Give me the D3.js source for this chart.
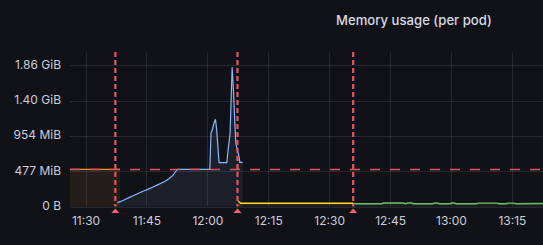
<!DOCTYPE html>
<html>
<head>
<meta charset="utf-8">
<script src="https://cdn.jsdelivr.net/npm/d3@7"></script>
<style>
  html, body { margin: 0; padding: 0; background: #111217; }
  svg { display: block; }
  text { font-family: Inter, "Noto Sans", sans-serif; }
</style>
</head>
<body>
<svg id="chart" width="543" height="245"></svg>
<script>
// ---- data (values in MB = 1e6 bytes) ----
const title = "Memory usage (per pod)";
const yTickValues = [0, 500, 1000, 1500, 2000];
const yTickLabels = ["0 B", "477 MiB", "954 MiB", "1.40 GiB", "1.86 GiB"];
const xTickLabels = ["11:30", "11:45", "12:00", "12:15", "12:30", "12:45", "13:00", "13:15"];
const thresholdMB = 524.288; // 500 MiB
const annotationTimes = ["11:37:20", "12:07:25", "12:35:55"];

const orangeTimes = ["11:20:00", "11:30:00", "11:38:30"];
const orangeValues = [527, 527, 527];

const blueTimes = ["11:37:48","11:38:42","11:39:42","11:40:42","11:41:42","11:42:42","11:43:36","11:44:36",
  "11:45:36","11:46:36","11:47:36","11:48:36","11:49:36","11:50:30","11:51:30","11:52:12","11:52:36",
  "12:00:36","12:00:54","12:01:12","12:01:36","12:02:00","12:02:18","12:02:42","12:02:54","12:04:48",
  "12:05:06","12:05:36","12:06:06","12:06:24","12:06:42","12:07:00","12:07:24","12:07:48","12:08:00","12:08:42"];
const blueValues = [54,72,100,126,152,178,202,226,
  250,276,303,330,358,392,440,496,527,
  527,1041,1083,1178,1235,1083,758,620,620,
  800,1041,1972,1678,1272,899,800,705,626,626];

const yellowTimes = ["12:07:36","12:08:15","12:15:00","12:25:00","12:35:55"];
const yellowValues = [74, 45, 45, 45, 45];

const greenTimes = ["12:35:54","12:37:12","12:42:54","12:43:30","12:45:00","12:48:18","12:48:48","12:49:24",
  "12:50:18","12:50:48","12:55:36","12:56:00","12:56:30","12:57:12","12:59:48","13:00:12","13:00:36",
  "13:01:24","13:06:18","13:06:48","13:11:18","13:11:48","13:13:42","13:14:06","13:15:12","13:16:12","13:23:00"];
const greenValues = [42,40,40,50,50,50,40,50,
  50,40,40,50,50,40,40,50,50,
  40,40,48,48,40,40,48,48,40,42];

// ---- helpers ----
const day = "2024-01-01T";
const parseT = s => new Date(day + (s.length === 5 ? s + ":00" : s));
const toPts = (ts, vs) => ts.map((t, i) => ({ t: parseT(t), v: vs[i] }));

const W = 543, H = 245;
const plot = { left: 70, right: 543, top: 52, bottom: 206.5 };

const x = d3.scaleTime()
  .domain([parseT("11:26:10"), parseT("13:22:40")])
  .range([plot.left, plot.right]);
const y = d3.scaleLinear()
  .domain([0, 2188])
  .range([plot.bottom, plot.top]);

const svg = d3.select("#chart");
svg.append("rect").attr("width", W).attr("height", H).attr("fill", "#111217");

svg.append("defs").append("clipPath").attr("id", "clip")
  .append("rect").attr("x", plot.left).attr("y", plot.top - 2)
  .attr("width", plot.right - plot.left).attr("height", plot.bottom - plot.top + 4);

// gridlines
const grid = svg.append("g");
grid.selectAll("line.h").data(yTickValues).join("line")
  .attr("x1", plot.left).attr("x2", plot.right)
  .attr("y1", d => Math.round(y(d)) + 0.5).attr("y2", d => Math.round(y(d)) + 0.5)
  .attr("stroke", "#ccccdc").attr("stroke-opacity", 0.12);
grid.selectAll("line.v").data(xTickLabels).join("line")
  .attr("x1", d => Math.round(x(parseT(d))) + 0.5).attr("x2", d => Math.round(x(parseT(d))) + 0.5)
  .attr("y1", plot.top).attr("y2", plot.bottom)
  .attr("stroke", "#ccccdc").attr("stroke-opacity", 0.12);

const g = svg.append("g").attr("clip-path", "url(#clip)");

const series = [
  { pts: toPts(orangeTimes, orangeValues), color: "#FF9830", w: 1.3 },
  { pts: toPts(blueTimes, blueValues), color: "#8AB8FF", w: 1.2 },
  { pts: toPts(yellowTimes, yellowValues), color: "#FADE2A", w: 1.4 },
  { pts: toPts(greenTimes, greenValues), color: "#73BF69", w: 1.4 }
];

const area = d3.area().x(d => x(d.t)).y0(y(0)).y1(d => y(d.v));
const line = d3.line().x(d => x(d.t)).y(d => y(d.v));

series.forEach(s => {
  g.append("path").datum(s.pts).attr("d", area)
    .attr("fill", s.color).attr("fill-opacity", 0.085);
});
series.forEach(s => {
  g.append("path").datum(s.pts).attr("d", line)
    .attr("fill", "none").attr("stroke", s.color).attr("stroke-width", s.w);
});

// threshold dashed line
g.append("line")
  .attr("x1", plot.left).attr("x2", plot.right)
  .attr("y1", 169.5).attr("y2", 169.5)
  .attr("stroke", "#E8545E").attr("stroke-width", 1.5)
  .attr("stroke-dasharray", "10,10");

// annotations
const ann = svg.append("g");
annotationTimes.forEach(t => {
  const ax = x(parseT(t));
  ann.append("line")
    .attr("x1", ax).attr("x2", ax)
    .attr("y1", plot.top).attr("y2", plot.bottom)
    .attr("stroke", "#E8545E").attr("stroke-width", 2.2)
    .attr("stroke-dasharray", "5,3");
  ann.append("path")
    .attr("d", `M${ax},${plot.bottom + 2} L${ax + 4},${plot.bottom + 6.5} L${ax - 4},${plot.bottom + 6.5} Z`)
    .attr("fill", "#F2606A");
});

// y axis
const yAxis = d3.axisLeft(y).tickValues(yTickValues)
  .tickFormat((d, i) => yTickLabels[i]).tickSize(0).tickPadding(0);
svg.append("g").attr("transform", "translate(61,-1)").call(yAxis)
  .call(a => a.select(".domain").remove())
  .selectAll("text").attr("fill", "#ccccdc").attr("font-size", 12)
  .attr("font-family", "Inter, 'Noto Sans', sans-serif");

// x axis
const xAxis = d3.axisBottom(x).tickValues(xTickLabels.map(parseT))
  .tickFormat((d, i) => xTickLabels[i]).tickSize(0).tickPadding(0);
svg.append("g").attr("transform", "translate(0,216)").call(xAxis)
  .call(a => a.select(".domain").remove())
  .selectAll("text").attr("fill", "#ccccdc").attr("font-size", 12)
  .attr("font-family", "Inter, 'Noto Sans', sans-serif");

// title
const tt = svg.append("text").attr("x", 336).attr("y", 25)
  .attr("fill", "#d8d8e4").attr("font-size", 14).attr("font-weight", 500)
  .text(title);
const len = tt.node().getComputedTextLength();
if (len > 0) tt.attr("font-size", 14 * 156 / len);
</script>
</body>
</html>
